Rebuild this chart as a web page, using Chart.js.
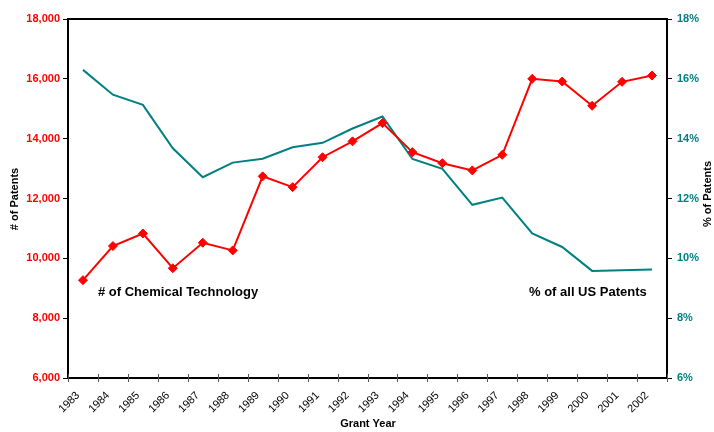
<!DOCTYPE html>
<html>
<head>
<meta charset="utf-8">
<script src="https://cdn.jsdelivr.net/npm/chart.js@4"></script>
<style>
html,body{margin:0;padding:0;background:#fff;}
#wrap{width:714px;height:432px;position:relative;}
</style>
</head>
<body>
<div id="wrap"><canvas id="c" width="714" height="432"></canvas></div>
<script>
const years = ["1983","1984","1985","1986","1987","1988","1989","1990","1991","1992","1993","1994","1995","1996","1997","1998","1999","2000","2001","2002"];
const chemPatents = [9270,10410,10830,9670,10520,10265,12740,12380,13380,13910,14520,13550,13180,12940,13460,16000,15910,15100,15900,16110];
const pctPatents = [16.30,15.47,15.13,13.68,12.71,13.20,13.33,13.71,13.86,14.34,14.74,13.32,12.99,11.79,12.03,10.83,10.38,9.58,9.60,9.63];
const leftTitle = "# of Patents";
const rightTitle = "% of Patents";
const xTitle = "Grant Year";
const label1 = "# of Chemical Technology";
const label2 = "% of all US Patents";

const RED = '#FF0000';
const TEAL = '#008080';
const FONT = 'Arial, "Liberation Sans", sans-serif';

const overlay = {
  id: 'overlay',
  afterDraw(chart) {
    const {ctx, chartArea: a} = chart;
    ctx.save();
    ctx.strokeStyle = '#000';
    ctx.lineWidth = 2;
    ctx.strokeRect(a.left, a.top, a.right - a.left, a.bottom - a.top);
    // x tick marks crossing the axis line, at category boundaries
    const xs = chart.scales.x;
    ctx.lineWidth = 1;
    ctx.strokeStyle = '#555';
    for (let i = 0; i <= years.length; i++) {
      const px = Math.round(xs.getPixelForValue(i - 0.5)) + 0.5;
      ctx.beginPath();
      ctx.moveTo(px, a.bottom - 4);
      ctx.lineTo(px, a.bottom + 4);
      ctx.stroke();
    }
    ctx.fillStyle = '#000';
    ctx.font = 'bold 13px ' + FONT;
    ctx.textBaseline = 'middle';
    ctx.textAlign = 'left';
    ctx.fillText(label1, 98, 292);
    ctx.fillText(label2, 529, 292);
    ctx.font = 'bold 11px ' + FONT;
    ctx.textAlign = 'center';
    ctx.fillText(xTitle, 368, 424);
    ctx.save();
    ctx.translate(15, 199);
    ctx.rotate(-Math.PI / 2);
    ctx.fillText(leftTitle, 0, 0);
    ctx.restore();
    ctx.save();
    ctx.translate(708, 194);
    ctx.rotate(-Math.PI / 2);
    ctx.fillText(rightTitle, 0, 0);
    ctx.restore();
    ctx.restore();
  }
};

new Chart(document.getElementById('c'), {
  type: 'line',
  data: {
    labels: years,
    datasets: [
      {
        label: label2,
        data: pctPatents,
        yAxisID: 'y1',
        borderColor: TEAL,
        borderWidth: 2,
        pointRadius: 0,
        tension: 0,
        order: 2
      },
      {
        label: label1,
        data: chemPatents,
        yAxisID: 'y',
        borderColor: RED,
        backgroundColor: RED,
        borderWidth: 2,
        pointStyle: 'rectRot',
        pointRadius: 4.5,
        pointBorderWidth: 1,
        tension: 0,
        order: 1
      }
    ]
  },
  options: {
    responsive: false,
    animation: false,
    layout: {padding: {top: 19, left: 0, right: 0, bottom: 0}},
    plugins: {legend: {display: false}, tooltip: {enabled: false}},
    scales: {
      x: {
        offset: true,
        grid: {display: false, drawOnChartArea: false, drawTicks: false, offset: true},
        border: {display: false},
        ticks: {maxRotation: 45, minRotation: 45, color: '#000', font: {family: FONT, size: 11}, padding: 11, labelOffset: -5, autoSkip: false},
        afterFit(s) { s.height = 54; }
      },
      y: {
        position: 'left',
        min: 6000, max: 18000,
        grid: {display: true, drawOnChartArea: false, drawTicks: true, tickLength: 5, color: '#000'},
        border: {display: false},
        ticks: {
          stepSize: 2000, color: RED, padding: 3,
          font: {family: FONT, size: 11, weight: 'bold'},
          callback: v => String(v).replace(/\B(?=(\d{3})+(?!\d))/g, ',')
        },
        afterFit(s) { s.width = 68; }
      },
      y1: {
        position: 'right',
        min: 6, max: 18,
        grid: {display: true, drawOnChartArea: false, drawTicks: true, tickLength: 5, color: '#000'},
        border: {display: false},
        ticks: {
          stepSize: 2, color: TEAL, padding: 5,
          font: {family: FONT, size: 11, weight: 'bold'},
          callback: v => v + '%'
        },
        afterFit(s) { s.width = 47; }
      }
    }
  },
  plugins: [overlay]
});
</script>
</body>
</html>
